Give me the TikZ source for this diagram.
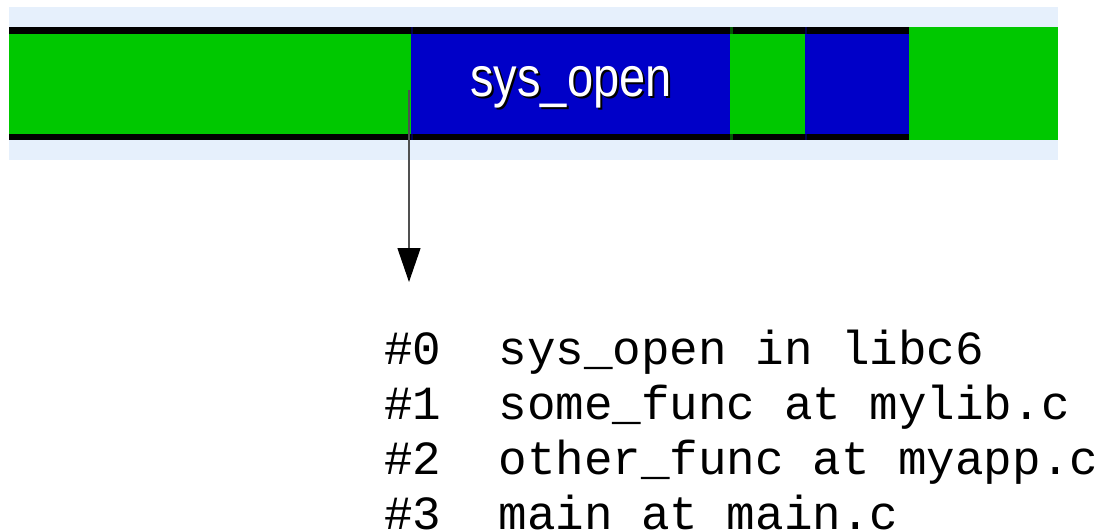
\documentclass[tikz,border=0pt]{standalone}
\usepackage{fontspec}
\setsansfont{Liberation Sans}
\setmonofont{Liberation Mono}
\usetikzlibrary{arrows.meta}
\definecolor{bandblue}{HTML}{E6F0FC}
\definecolor{cgreen}{HTML}{00C800}
\definecolor{cblue}{HTML}{0000C8}
\definecolor{navy}{HTML}{000050}
\definecolor{dgreen}{HTML}{005A00}
\definecolor{arrowgray}{HTML}{505050}
\tikzset{
  block/.style={draw=none, inner sep=0pt, outer sep=0pt, anchor=north west, minimum height=100pt},
  stripe/.style={fill=black},
  codeline/.style={anchor=base west, inner sep=0pt, font=\fontsize{47.6}{55}\selectfont\ttfamily},
  barlabel/.style={anchor=base, inner sep=0pt, font=\fontsize{56}{60}\selectfont\sffamily},
  callarrow/.style={draw=arrowgray, line width=1.2pt, -{Triangle[width=23pt,length=34pt,fill=black,color=black]}}
}
\begin{document}
\begin{tikzpicture}[x=1pt,y=-1pt]
\useasboundingbox (0,0) rectangle (1102,532);
% background band
\fill[bandblue] (9,7) rectangle (1058,160);
% blocks
\node[block, fill=cgreen, minimum width=402pt] (g1) at (9,34) {};
\node[block, fill=cblue, minimum width=319pt] (b1) at (411,34) {};
\node[block, fill=cgreen, minimum width=75pt] (g2) at (730,34) {};
\node[block, fill=cblue, minimum width=104pt] (b2) at (805,34) {};
\node[block, fill=cgreen, minimum width=149pt, minimum height=113pt] (g3) at (909,27) {};
% stripes
\fill[stripe] (9,27) rectangle (909,34);
\fill[stripe] (9,134) rectangle (909,140);
% separators on stripes
\fill[navy] (411,27) rectangle (413,34);
\fill[navy] (411,134) rectangle (413,140);
\fill[dgreen] (730,27) rectangle (733,34);
\fill[dgreen] (730,134) rectangle (733,140);
\fill[navy] (805,27) rectangle (807,34);
\fill[navy] (805,134) rectangle (807,140);
% label with shadow
\node[barlabel, text=black] (lblshadow) at (573,99) {\scalebox{0.84}[1]{sys\_open}};
\node[barlabel, text=white] (lbl) at (571,97) {\scalebox{0.84}[1]{sys\_open}};
% arrow
\coordinate (astart) at (409,90);
\coordinate (aend) at (409,282);
\draw[callarrow] (astart) -- (aend);
% call stack
\node[codeline] (l0) at (384,364) {\#0\ \ sys\_open in libc6};
\node[codeline] (l1) at (384,419) {\#1\ \ some\_func at mylib.c};
\node[codeline] (l2) at (384,474) {\#2\ \ other\_func at myapp.c};
\node[codeline] (l3) at (384,529) {\#3\ \ main at main.c};
\end{tikzpicture}
\end{document}
